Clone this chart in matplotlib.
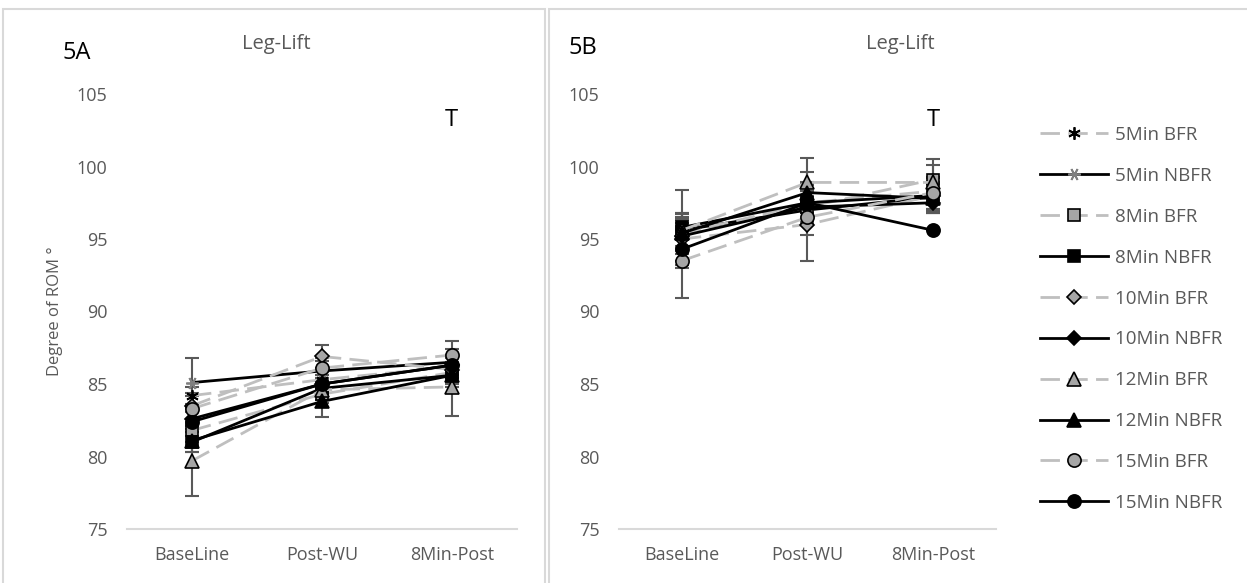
import matplotlib
matplotlib.use("Agg")
import matplotlib.pyplot as plt
from matplotlib.patches import Rectangle
from matplotlib.lines import Line2D

plt.rcParams['font.family'] = ['Open Sans', 'DejaVu Sans']

categories = ["BaseLine", "Post-WU", "8Min-Post"]
series = ["5Min BFR", "5Min NBFR", "8Min BFR", "8Min NBFR", "10Min BFR",
          "10Min NBFR", "12Min BFR", "12Min NBFR", "15Min BFR", "15Min NBFR"]

# panel 5A values (one list per series, order as in `series`)
a_values = [
    [84.2, 85.3, 86.2],
    [85.1, 85.9, 86.5],
    [81.8, 84.3, 85.8],
    [81.0, 84.7, 85.6],
    [83.5, 86.9, 86.0],
    [82.6, 85.0, 86.3],
    [79.7, 84.6, 84.8],
    [81.1, 83.8, 85.6],
    [83.3, 86.1, 87.0],
    [82.4, 85.0, 86.3],
]
a_err = [
    [0.6, 0.6, 0.8],
    [1.7, 0.7, 0.9],
    [0.8, 0.6, 0.7],
    [0.7, 0.5, 0.6],
    [0.9, 0.8, 0.9],
    [0.7, 0.6, 0.7],
    [2.4, 0.7, 2.0],
    [0.8, 1.1, 0.8],
    [0.9, 0.7, 1.0],
    [0.7, 0.6, 0.7],
]

# panel 5B values
b_values = [
    [95.3, 97.5, 98.3],
    [95.6, 97.0, 97.9],
    [95.5, 97.2, 99.1],
    [95.8, 97.5, 98.0],
    [95.0, 96.0, 98.0],
    [95.2, 97.2, 97.5],
    [95.6, 98.9, 98.9],
    [95.4, 98.2, 97.8],
    [93.5, 96.5, 98.2],
    [94.3, 97.5, 95.6],
]
b_err = [
    [1.0, 1.2, 0.9],
    [1.2, 1.0, 1.0],
    [1.3, 1.1, 1.4],
    [2.6, 1.3, 0.9],
    [1.5, 2.5, 1.2],
    [1.2, 1.1, 0.7],
    [1.1, 1.7, 1.2],
    [1.0, 1.4, 1.0],
    [2.6, 1.2, 1.1],
    [1.3, 1.4, 0.0],
]

GRAY_LINE = "#BFBFBF"
GRAY_FILL = "#A6A6A6"
TXT = "#595959"
DASH = (0, (7, 3))

styles = [
    dict(color=GRAY_LINE, ls=DASH, marker=(6, 2, 0), mfc="black", mec="black", ms=9, mew=1.3),
    dict(color="black", ls="-", marker=(6, 2, 90), mfc="#808080", mec="#808080", ms=9, mew=1.3),
    dict(color=GRAY_LINE, ls=DASH, marker="s", mfc=GRAY_FILL, mec="black", ms=9, mew=1.2),
    dict(color="black", ls="-", marker="s", mfc="black", mec="black", ms=9, mew=1.2),
    dict(color=GRAY_LINE, ls=DASH, marker="D", mfc=GRAY_FILL, mec="black", ms=7, mew=1.2),
    dict(color="black", ls="-", marker="D", mfc="black", mec="black", ms=7, mew=1.2),
    dict(color=GRAY_LINE, ls=DASH, marker="^", mfc=GRAY_FILL, mec="black", ms=10, mew=1.2),
    dict(color="black", ls="-", marker="^", mfc="black", mec="black", ms=10, mew=1.2),
    dict(color=GRAY_LINE, ls=DASH, marker="o", mfc=GRAY_FILL, mec="black", ms=9.5, mew=1.2),
    dict(color="black", ls="-", marker="o", mfc="black", mec="black", ms=9.5, mew=1.2),
]

fig = plt.figure(figsize=(12.47, 5.83), dpi=100)
W, H = 1247, 583

# panel borders
fig.patches.append(Rectangle((3 / W, -0.01), 542 / W, 1 - 9 / H + 0.01, transform=fig.transFigure,
                             fill=False, edgecolor="#D9D9D9", lw=1.5))
fig.patches.append(Rectangle((549 / W, -0.01), 700 / W, 1 - 9 / H + 0.01, transform=fig.transFigure,
                             fill=False, edgecolor="#D9D9D9", lw=1.5))


def panel(ax, values, errs):
    x = list(range(len(categories)))
    for vals, err in zip(values, errs):
        ax.errorbar(x, vals, yerr=err, fmt="none", ecolor=TXT, elinewidth=1.5,
                    capsize=4.7, capthick=1.5, zorder=2)
    for vals, st in zip(values, styles):
        ax.plot(x, vals, lw=2, zorder=3, **st)
    ax.set_xlim(-0.5, 2.5)
    ax.set_ylim(75, 105)
    ax.set_yticks(range(75, 106, 5))
    ax.set_xticks(x)
    ax.set_xticklabels(categories)
    for s in ["top", "right", "left"]:
        ax.spines[s].set_visible(False)
    ax.spines["bottom"].set_color("#D9D9D9")
    ax.spines["bottom"].set_linewidth(1.5)
    ax.tick_params(length=0, colors=TXT, labelsize=13, pad=12)
    ax.tick_params(axis="y", pad=14)


bottom = 1 - 529 / H
height = (529 - 94) / H

ax1 = fig.add_axes([127 / W, bottom, (517 - 127) / W, height])
panel(ax1, a_values, a_err)
ax1.set_ylabel("Degree of ROM °", color=TXT, fontsize=12, labelpad=10)

ax2 = fig.add_axes([619 / W, bottom, (996 - 619) / W, height])
panel(ax2, b_values, b_err)

fig.text(62 / W, 1 - 53 / H, "5A", fontsize=17, va="center", ha="left")
fig.text(276 / W, 1 - 44 / H, "Leg-Lift", fontsize=14.5, color=TXT, va="center", ha="center")
fig.text(451 / W, 1 - 120 / H, "T", fontsize=17, va="center", ha="center")
fig.text(569 / W, 1 - 48 / H, "5B", fontsize=17, va="center", ha="left")
fig.text(900 / W, 1 - 44 / H, "Leg-Lift", fontsize=14.5, color=TXT, va="center", ha="center")
fig.text(933 / W, 1 - 120 / H, "T", fontsize=17, va="center", ha="center")

handles = [Line2D([], [], lw=2, **st) for st in styles]
fig.legend(handles, series, loc="upper left", bbox_to_anchor=(1040 / W, 1 - 126 / H),
           frameon=False, handlelength=3.6, labelspacing=1.22, fontsize=13.5,
           labelcolor=TXT, handletextpad=0.4, borderaxespad=0, borderpad=0)

fig.savefig("out.png", dpi=100)
